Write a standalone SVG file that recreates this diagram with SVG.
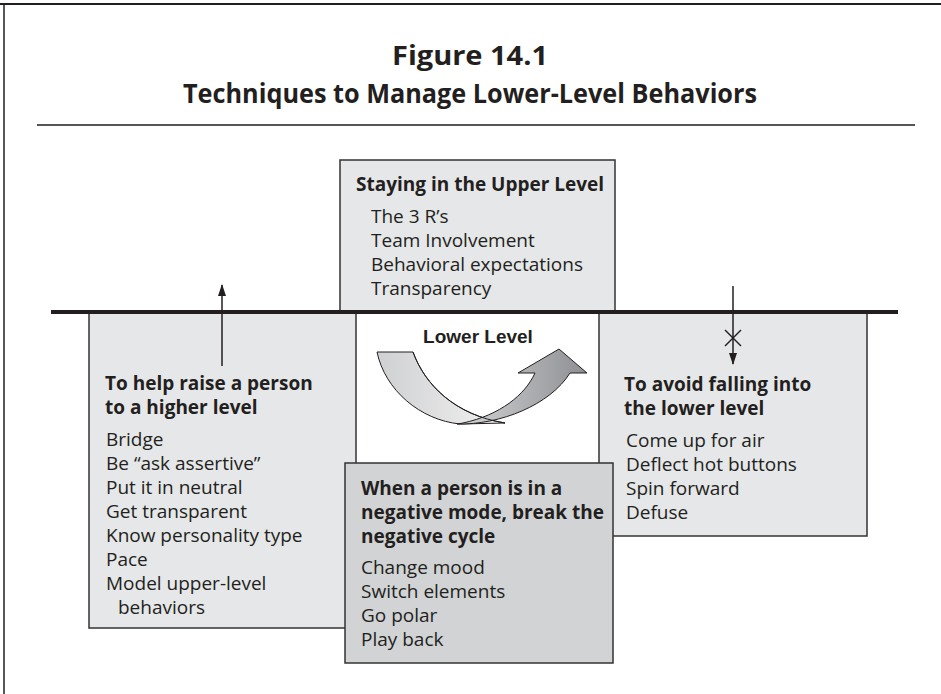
<svg xmlns="http://www.w3.org/2000/svg" width="941" height="694" viewBox="0 0 941 694">
<style>
.title{font-family:"Open Sans","Liberation Sans",sans-serif;font-weight:bold;font-size:26px;fill:#231f20;text-anchor:middle}
.hd{font-family:"Open Sans","Liberation Sans",sans-serif;font-weight:bold;font-size:19px;fill:#231f20}
.bd{font-family:"Open Sans","Liberation Sans",sans-serif;font-size:19px;fill:#231f20}
.box{fill:#e6e7e8;stroke:#333;stroke-width:1.5}
.box2{fill:#d1d3d4;stroke:#333;stroke-width:1.5}
.conn{stroke:#231f20;stroke-width:1.5;fill:none}
</style>
<defs>
<marker id="ah" viewBox="0 0 12 8" refX="11" refY="4" markerWidth="12" markerHeight="8" markerUnits="userSpaceOnUse" orient="auto" preserveAspectRatio="none">
<path d="M0,0 L12,4 L0,8 Z" fill="#231f20"/>
</marker>
<linearGradient id="gl" x1="377" y1="0" x2="505" y2="0" gradientUnits="userSpaceOnUse">
<stop offset="0" stop-color="#cfd0d2"/><stop offset="1" stop-color="#f2f2f2"/>
</linearGradient>
<linearGradient id="gr" x1="457" y1="0" x2="587" y2="0" gradientUnits="userSpaceOnUse">
<stop offset="0" stop-color="#d4d5d7"/><stop offset="1" stop-color="#8e8f92"/>
</linearGradient>
</defs>
<rect width="941" height="694" fill="#fff"/>
<g id="frame">
<line x1="0" y1="4" x2="941" y2="4" stroke="#231f20" stroke-width="2"/>
<line x1="4" y1="4" x2="4" y2="694" stroke="#231f20" stroke-width="1.5"/>
<text class="title" x="470" y="65" textLength="156" lengthAdjust="spacingAndGlyphs">Figure 14.1</text>
<text class="title" x="470" y="103" textLength="574" lengthAdjust="spacingAndGlyphs">Techniques to Manage Lower-Level Behaviors</text>
<line x1="37" y1="125" x2="915" y2="125" stroke="#555" stroke-width="2"/>
</g>
<g id="upper">
<rect class="box" x="340" y="160" width="275" height="152"/>
<text class="hd" x="356" y="191">Staying in the Upper Level</text>
<text class="bd" x="371" y="223">The 3 R’s</text>
<text class="bd" x="371" y="247">Team Involvement</text>
<text class="bd" x="371" y="271">Behavioral expectations</text>
<text class="bd" x="371" y="295">Transparency</text>
</g>
<g id="raise">
<rect class="box" x="89" y="312" width="267" height="316"/>
<text class="hd" x="105" y="390">To help raise a person</text>
<text class="hd" x="105" y="414">to a higher level</text>
<text class="bd" x="106" y="446">Bridge</text>
<text class="bd" x="106" y="470">Be “ask assertive”</text>
<text class="bd" x="106" y="494">Put it in neutral</text>
<text class="bd" x="106" y="518">Get transparent</text>
<text class="bd" x="106" y="542">Know personality type</text>
<text class="bd" x="106" y="566">Pace</text>
<text class="bd" x="106" y="590">Model upper-level</text>
<text class="bd" x="118" y="614">behaviors</text>
</g>
<g id="avoid">
<rect class="box" x="599" y="312" width="268" height="224"/>
<text class="hd" x="624" y="391">To avoid falling into</text>
<text class="hd" x="624" y="415">the lower level</text>
<text class="bd" x="626" y="447">Come up for air</text>
<text class="bd" x="626" y="471">Deflect hot buttons</text>
<text class="bd" x="626" y="495">Spin forward</text>
<text class="bd" x="626" y="519">Defuse</text>
</g>
<g id="lower">
<text x="478" y="343" text-anchor="middle" font-family="'Liberation Sans',Arial,sans-serif" font-weight="bold" font-size="19" fill="#231f20">Lower Level</text>
<path d="M377,352 L413,352 C425,385 455,415 505,423 L460,424 C420,420 385,390 377,352 Z" fill="url(#gl)" stroke="#231f20" stroke-width="1"/>
<path d="M457,424 C500,425 550,405 570,373 L587,373 L559,349 L518,373 L535,373 C525,395 500,415 463,423 Z" fill="url(#gr)" stroke="#231f20" stroke-width="1"/>
<path d="M413,352 C425,385 455,415 505,423" fill="none" stroke="#231f20" stroke-width="1"/>
</g>
<g id="negative">
<rect class="box2" x="345" y="463" width="268" height="200"/>
<text class="hd" x="361" y="495">When a person is in a</text>
<text class="hd" x="361" y="519">negative mode, break the</text>
<text class="hd" x="361" y="543">negative cycle</text>
<text class="bd" x="361" y="574">Change mood</text>
<text class="bd" x="361" y="598">Switch elements</text>
<text class="bd" x="361" y="622">Go polar</text>
<text class="bd" x="361" y="646">Play back</text>
</g>
<g id="connectors">
<line x1="51" y1="312" x2="898" y2="312" stroke="#231f20" stroke-width="4"/>
<line class="conn" x1="222" y1="366" x2="222" y2="285" marker-end="url(#ah)"/>
<line class="conn" x1="733" y1="286" x2="733" y2="364" marker-end="url(#ah)"/>
<line class="conn" x1="725" y1="330" x2="741" y2="346" stroke-width="1.2"/>
<line class="conn" x1="741" y1="330" x2="725" y2="346" stroke-width="1.2"/>
</g>
</svg>
